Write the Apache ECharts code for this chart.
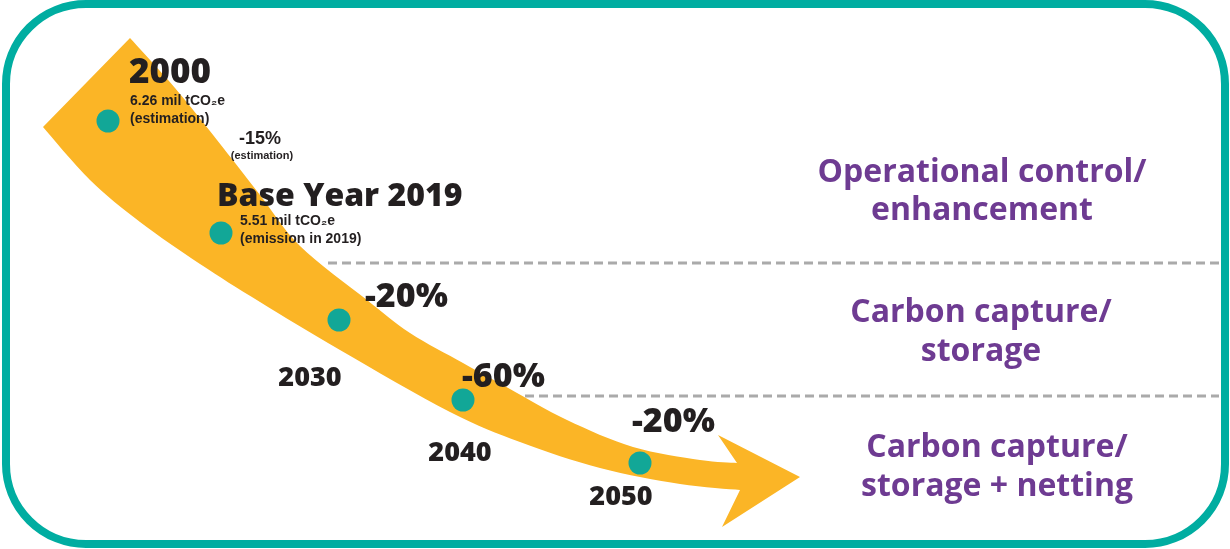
<!DOCTYPE html>
<html>
<head>
<meta charset="utf-8">
<title>Emission roadmap</title>
<script src="https://cdn.jsdelivr.net/npm/echarts@6/dist/echarts.min.js"></script>
<style>
  html, body { margin: 0; padding: 0; background: #fff; }
  #chart { width: 1230px; height: 549px; }
</style>
</head>
<body>
<div id="chart"></div>
<script>
// milestones along the arrow
const years = ['2000', '2019', '2030', '2040', '2050']
const dotX = [108, 221, 339, 463, 640]
const dotY = [121, 233, 320, 400, 463]
const emissions = ['6.26 mil tCO₂e', '5.51 mil tCO₂e']
const emissionNotes = ['(estimation)', '(emission in 2019)']
const reductions = ['-15%', '-20%', '-60%', '-20%']
const strategies = [
  ['Operational control/', 'enhancement'],
  ['Carbon capture/', 'storage'],
  ['Carbon capture/', 'storage + netting']
]

// arrow outline (decoration only)
const arrowUpper = [[130, 38], [175, 88], [217, 140], [260, 195], [300, 246], [367, 300], [410, 333], [463, 363], [510, 389], [567, 420], [633, 447], [700, 460], [737, 463]]
const arrowHead = [[718, 435], [800, 477], [722, 527]]
const arrowLower = [[740, 490], [680, 484], [600, 468], [520, 442], [450, 412], [340, 350], [260, 302], [200, 264], [140, 222], [90, 180], [43, 127]]

const dark = '#231f20'
const purple = '#6e3b92'
const teal = '#00ada1'
const bold = 'Open Sans'

function spline(pts, steps) {
  const out = []
  for (let i = 0; i < pts.length - 1; i++) {
    const p0 = pts[Math.max(i - 1, 0)], p1 = pts[i], p2 = pts[i + 1], p3 = pts[Math.min(i + 2, pts.length - 1)]
    for (let s = 0; s < steps; s++) {
      const t = s / steps, t2 = t * t, t3 = t2 * t
      out.push([0, 1].map(k => 0.5 * (2 * p1[k] + (-p0[k] + p2[k]) * t +
        (2 * p0[k] - 5 * p1[k] + 4 * p2[k] - p3[k]) * t2 + (-p0[k] + 3 * p1[k] - 3 * p2[k] + p3[k]) * t3)))
    }
  }
  out.push(pts[pts.length - 1])
  return out
}

function txt(text, x, y, size, opts) {
  return {
    type: 'text', x, y, z: 100,
    style: Object.assign({
      text, fontSize: size, fontWeight: 800, fontFamily: bold, fill: dark,
      align: 'left', verticalAlign: 'middle'
    }, opts || {})
  }
}

const small = { fontFamily: 'Liberation Sans', fontWeight: 'bold' }
const purpleText = { fill: purple, align: 'center', fontWeight: 'bold' }

const chart = echarts.init(document.getElementById('chart'))
chart.setOption({
  animation: false,
  grid: { left: 0, right: 0, top: 0, bottom: 0 },
  xAxis: { type: 'value', min: 0, max: 1230, show: false },
  yAxis: { type: 'value', min: 0, max: 549, inverse: true, show: false },
  series: [{
    type: 'custom',
    z: 1,
    data: [[0, 0]],
    renderItem(params, api) {
      const outline = spline(arrowUpper, 8).concat(arrowHead, spline(arrowLower, 8))
      return {
        type: 'polygon',
        shape: { points: outline.map(p => api.coord(p)) },
        style: { fill: '#fbb526' }
      }
    }
  }, {
    type: 'scatter',
    z: 5,
    symbolSize: 23,
    itemStyle: { color: '#12a797', opacity: 1 },
    data: years.map((y, i) => [dotX[i], dotY[i]])
  }],
  graphic: [
    {
      type: 'rect', z: 0,
      shape: { x: 6, y: 4, width: 1219, height: 540, r: 80 },
      style: { fill: 'none', stroke: teal, lineWidth: 8 }
    },
    {
      type: 'line', z: 0,
      shape: { x1: 328, y1: 263, x2: 1219, y2: 263 },
      style: { stroke: '#aaaaaa', lineWidth: 3, lineDash: [9, 5] }
    },
    {
      type: 'line', z: 0,
      shape: { x1: 525, y1: 396, x2: 1219, y2: 396 },
      style: { stroke: '#aaaaaa', lineWidth: 3, lineDash: [9, 5] }
    },
    txt(years[0], 129, 73, 35),
    txt(emissions[0], 130, 101, 14, small),
    txt(emissionNotes[0], 130, 119, 14, small),
    txt(reductions[0], 260, 139, 18, Object.assign({ align: 'center' }, small)),
    txt(emissionNotes[0], 262, 156, 11, Object.assign({ align: 'center' }, small)),
    txt('Base Year ' + years[1], 217, 197, 32),
    txt(emissions[1], 240, 221, 14, small),
    txt(emissionNotes[1], 240, 239, 14, small),
    txt(reductions[1], 365, 297, 34),
    txt(years[2], 310, 378, 27, { align: 'center' }),
    txt(reductions[2], 462, 377, 34),
    txt(years[3], 460, 453, 27, { align: 'center' }),
    txt(reductions[3], 632, 422, 34),
    txt(years[4], 621, 497, 27, { align: 'center' }),
    txt(strategies[0][0], 982, 173, 32, purpleText),
    txt(strategies[0][1], 982, 211, 32, purpleText),
    txt(strategies[1][0], 981, 313, 32, purpleText),
    txt(strategies[1][1], 981, 352, 32, purpleText),
    txt(strategies[2][0], 997, 448, 32, purpleText),
    txt(strategies[2][1], 997, 487, 32, purpleText)
  ]
})
</script>
</body>
</html>
